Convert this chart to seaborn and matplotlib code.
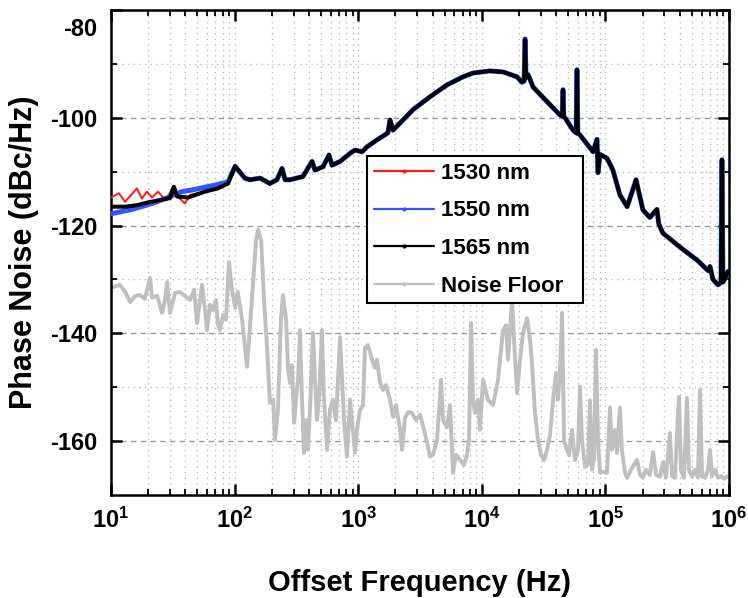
import numpy as np
import matplotlib
matplotlib.use("Agg")
import matplotlib.pyplot as plt
import matplotlib.transforms as mtransforms
import seaborn as sns
from matplotlib.lines import Line2D
from matplotlib.ticker import FixedLocator, LogLocator, NullFormatter, FuncFormatter

sns.set_theme(style="white")
plt.rcParams["font.family"] = ["Liberation Sans", "DejaVu Sans"]
plt.rcParams["font.weight"] = "bold"
plt.rcParams["axes.unicode_minus"] = False
plt.rcParams["mathtext.fontset"] = "custom"
plt.rcParams["mathtext.rm"] = "Liberation Sans:bold"
plt.rcParams["mathtext.bf"] = "Liberation Sans:bold"
plt.rcParams["mathtext.it"] = "Liberation Sans:bold"
for key in ["text.color", "axes.labelcolor", "xtick.color", "ytick.color"]:
    plt.rcParams[key] = "black"

# ---- measured phase noise (offset frequency in Hz, level in dBc/Hz) ----
# section shared by all three wavelengths above ~100 Hz
common_hz = [101, 121, 133, 161, 193, 220, 242, 256, 281, 357, 423, 447, 519, 580,
             614, 713, 859, 942, 1074, 1178, 1419, 1740, 1807, 1914, 2776, 3810,
             5230, 7040, 8490, 11600, 14900, 19300, 21100, 22000, 22400, 22800,
             23700, 26000, 33700, 43000, 44800, 45400, 46000, 47100, 54700, 58000,
             58900, 59800, 62300, 79400, 85500, 87100, 90400, 103000, 115000,
             131000, 150000, 177000, 201000, 229000, 261000, 271000, 292000,
             401000, 551000, 680000, 702000, 741000, 815000, 861000, 877000,
             893000, 944000, 982000]
common_db = [-109.0, -111.2, -111.5, -111.2, -112.2, -111.5, -109.4, -111.5, -111.5,
             -110.9, -108.1, -109.7, -109.1, -106.9, -108.8, -108.1, -106.6, -106.0,
             -106.3, -105.4, -104.1, -102.8, -100.4, -102.3, -98.5, -96.1, -93.9,
             -92.4, -91.7, -91.3, -91.5, -92.4, -93.4, -93.2, -85.4, -92.6, -92.0,
             -94.3, -97.0, -99.5, -99.7, -94.8, -99.8, -100.0, -102.3, -102.8,
             -91.1, -102.9, -103.2, -106.3, -104.0, -110.2, -106.8, -107.5, -109.7,
             -114.3, -116.5, -111.5, -117.1, -118.5, -117.0, -119.8, -121.4,
             -124.0, -126.4, -128.4, -127.6, -130.0, -131.0, -130.5, -107.8,
             -130.5, -129.5, -128.5]

# low-frequency sections where the three wavelengths differ
red_low_hz = [10, 11.6, 13.0, 16.2, 17.8, 19.5, 21.5, 24.0, 26.4, 28.9, 31.2, 33.6,
              39.7, 43.6, 57.6, 73.4, 88.4]
red_low_db = [-114.8, -114.0, -115.6, -113.1, -115.0, -113.7, -114.8, -113.7, -114.8,
              -114.6, -113.1, -114.4, -115.9, -114.3, -113.7, -113.1, -112.2]

blue_low_hz = [10, 14.8, 21.5, 27.4, 37.5, 45.2, 69.3, 88.4]
blue_low_db = [-117.8, -117.0, -115.9, -115.0, -113.7, -113.4, -112.5, -111.9]

black_low_hz = [10, 13.0, 16.5, 19.9, 25.9, 30.0, 32.3, 34.2, 42.0, 57.6, 73.4, 88.4]
black_low_db = [-116.5, -116.5, -116.2, -115.7, -115.2, -114.9, -112.8, -114.6, -114.8,
                -113.7, -113.1, -112.2]

floor_hz = [10, 11.0, 11.8, 13.0, 14.3, 15.6, 17.2, 18.8, 20.7, 21.5, 23.6, 25.9, 27.4,
            28.4, 30.0, 33.0, 36.1, 39.7, 43.6, 47.0, 49.7, 52.5, 54.5, 57.6, 59.8,
            63.2, 66.8, 70.7, 73.4, 76.2, 80.6, 85.2, 90.1, 95.3, 101, 106, 115, 126,
            138, 149, 155, 164, 173, 183, 193, 205, 212, 224, 237, 246, 261, 271, 281,
            291, 303, 314, 326, 338, 351, 364, 378, 392, 407, 431, 447, 464, 482, 509,
            529, 560, 591, 625, 661, 713, 740, 768, 811, 859, 891, 942, 977, 1035,
            1094, 1135, 1200, 1294, 1368, 1419, 1500, 1587, 1679, 1807, 1914, 2024,
            2180, 2262, 2391, 2529, 2725, 2937, 3162, 3407, 3603, 3811, 4031, 4343,
            4680, 4855, 5230, 5528, 5848, 6182, 6661, 7178, 7591, 7874, 8180, 8490,
            8810, 9310, 9660, 10230, 11220, 12330, 13520, 14850, 15710, 16310, 16920,
            17570, 18230, 19280, 20390, 21560, 23230, 24560, 25480, 26940, 28510,
            30150, 31880, 33710, 35650, 37700, 39860, 41390, 42970, 44600, 46290,
            48010, 50780, 53700, 56790, 60040, 62310, 64680, 68400, 72310, 75050,
            77920, 80880, 83950, 87140, 90450, 97470, 103000, 109000, 113000, 120000,
            124000, 131000, 136000, 144000, 150000, 161000, 170000, 180000, 191000,
            201000, 213000, 229000, 243000, 257000, 277000, 292000, 309000, 333000,
            346000, 366000, 380000, 394000, 409000, 432000, 457000, 474000, 502000,
            531000, 561000, 582000, 605000, 640000, 676000, 702000, 728000, 771000,
            815000, 861000, 912000, 964000]
floor_db = [-131.6, -131.2, -131.0, -132.3, -134.2, -133.1, -132.9, -133.6, -129.7,
            -133.4, -133.0, -136.2, -133.8, -130.5, -136.2, -132.5, -132.3, -133.1,
            -133.8, -131.9, -138.1, -133.8, -131.0, -135.7, -139.4, -134.7, -135.7,
            -133.8, -138.4, -139.4, -136.6, -137.5, -126.8, -131.9, -135.3, -132.3,
            -137.5, -146.2, -133.8, -122.7, -120.8, -122.7, -133.8, -142.5, -152.9,
            -152.3, -159.8, -154.2, -137.5, -132.9, -137.5, -146.8, -149.2, -145.9,
            -156.6, -152.3, -148.6, -139.4, -152.3, -162.2, -156.1, -161.6, -154.2,
            -139.9, -148.6, -156.1, -152.3, -139.4, -152.3, -161.6, -154.2, -152.3,
            -156.1, -140.7, -148.6, -156.1, -162.9, -152.3, -156.1, -162.2, -157.9,
            -154.2, -153.3, -142.7, -142.2, -144.9, -146.4, -144.9, -149.0, -150.5,
            -149.6, -152.3, -155.5, -153.3, -157.9, -161.6, -155.7, -154.6, -154.8,
            -156.1, -155.1, -157.9, -160.3, -162.9, -162.5, -159.8, -148.6, -156.1,
            -157.4, -153.3, -165.9, -162.5, -163.5, -164.4, -162.5, -159.8, -138.1,
            -152.3, -154.8, -152.3, -157.9, -148.6, -152.4, -153.3, -148.6, -139.4,
            -138.5, -144.9, -139.4, -133.8, -141.2, -151.1, -144.9, -139.9, -137.2,
            -141.2, -145.5, -154.8, -159.8, -162.6, -163.5, -161.6, -158.9, -152.4,
            -147.3, -152.3, -146.8, -136.2, -159.8, -161.1, -162.6, -157.9, -163.5,
            -161.6, -149.9, -159.8, -164.8, -164.4, -152.4, -165.3, -163.5, -143.1,
            -159.8, -165.9, -165.7, -165.9, -153.7, -161.6, -157.9, -162.2, -153.8,
            -161.6, -165.9, -166.8, -165.3, -164.4, -163.5, -166.3, -166.8, -165.3,
            -166.3, -162.0, -166.3, -166.6, -163.9, -166.8, -158.5, -166.5, -166.8,
            -158.3, -151.8, -165.3, -166.8, -152.0, -165.3, -166.6, -165.3, -166.8,
            -150.5, -166.5, -166.8, -165.3, -161.6, -166.5, -165.3, -166.8, -166.5,
            -167.0, -166.6]

series_labels = ["1530 nm", "1550 nm", "1565 nm", "Noise Floor"]
series_colors = ["#ff1a1a", "#2f55ff", "#000000", "#bfbfbf"]

x_ticks = [1e1, 1e2, 1e3, 1e4, 1e5, 1e6]
y_ticks = [-160, -140, -120, -100, -80]
y_minor = [-150, -130, -110, -90]

red_hz = np.concatenate([red_low_hz, common_hz])
red_db = np.concatenate([red_low_db, common_db])
blue_hz = np.concatenate([blue_low_hz, common_hz])
blue_db = np.concatenate([blue_low_db, common_db])
black_hz = np.concatenate([black_low_hz, common_hz])
black_db = np.concatenate([black_low_db, common_db])

fig = plt.figure(figsize=(7.48, 5.98), dpi=100)
ax = fig.add_axes([111 / 748, 1 - 495 / 598, 618 / 748, 485 / 598])
ax.set_xscale("log")

sns.lineplot(x=floor_hz, y=floor_db, ax=ax, color=series_colors[3], lw=2.8,
             sort=False, estimator=None, zorder=2)
sns.lineplot(x=red_hz, y=red_db, ax=ax, color=series_colors[0], lw=1.4,
             sort=False, estimator=None, zorder=3)
sns.lineplot(x=blue_hz, y=blue_db, ax=ax, color=series_colors[1], lw=3.6,
             sort=False, estimator=None, zorder=4)
sns.lineplot(x=black_hz, y=black_db, ax=ax, color=series_colors[2], lw=2.9,
             sort=False, estimator=None, zorder=5)

ax.set_xlim(10, 1e6)
ax.set_ylim(-170, -80)

# axes, ticks and grid
ax.xaxis.set_major_locator(FixedLocator(x_ticks))
ax.xaxis.set_minor_locator(LogLocator(base=10, subs=np.arange(2, 10)))
ax.xaxis.set_minor_formatter(NullFormatter())
ax.xaxis.set_major_formatter(
    FuncFormatter(lambda v, p: r"$\mathbf{10^{%d}}$" % int(round(np.log10(v)))))
ax.yaxis.set_major_locator(FixedLocator(y_ticks))
ax.yaxis.set_minor_locator(FixedLocator(y_minor))
ax.yaxis.set_major_formatter(FuncFormatter(lambda v, p: "%d" % v))

ax.set_axisbelow(True)
ax.grid(True, which="major", axis="y", color="#9a9a9a", lw=1.0, ls=(0, (4, 3)))
ax.grid(True, which="minor", axis="y", color="#b8b8b8", lw=1.0, ls=(0, (1, 3)))
ax.grid(True, which="both", axis="x", color="#b8b8b8", lw=1.0, ls=(0, (1, 3)))

for s in ax.spines.values():
    s.set_visible(True)
    s.set_color("black")
    s.set_linewidth(1.8)

ax.tick_params(which="major", direction="in", length=8, width=1.8,
               top=True, right=True, bottom=True, left=True,
               labelsize=17, colors="black")
ax.tick_params(which="minor", direction="in", length=4, width=1.3,
               top=True, right=True, bottom=True, left=True)
ax.tick_params(axis="x", which="major", pad=9)
ax.tick_params(axis="y", which="major", pad=10)
for lab in ax.get_xticklabels() + ax.get_yticklabels():
    lab.set_fontweight("bold")

# the top value label sits a little below the frame edge
top_tick = ax.yaxis.get_major_ticks()[-1]
top_tick.label1.set_transform(
    top_tick.label1.get_transform()
    + mtransforms.ScaledTranslation(0, -12 / 72, fig.dpi_scale_trans))

ax.set_xlabel("Offset Frequency (Hz)", fontsize=21, fontweight="bold", labelpad=26)
ax.set_ylabel("Phase Noise (dBc/Hz)", fontsize=22, fontweight="bold", labelpad=8)

handles = [Line2D([], [], color=c, lw=1.6, marker=".", ms=4) for c in series_colors]
leg = ax.legend(handles, series_labels, loc="upper left",
                bbox_to_anchor=(0.414, 0.409, 0.350, 0.290), mode="expand",
                fontsize=16, frameon=True, fancybox=False, framealpha=1,
                edgecolor="black", borderpad=0.3, labelspacing=0.75,
                handlelength=2.7, handletextpad=0.35, borderaxespad=0)
leg.get_frame().set_linewidth(1.5)
for t in leg.get_texts():
    t.set_fontweight("bold")
    t.set_color("black")
leg.set_zorder(10)

fig.savefig("out.png", dpi=100)
